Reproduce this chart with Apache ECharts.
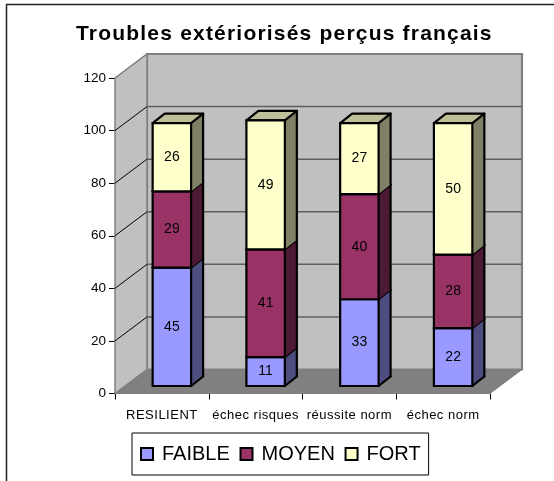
<!DOCTYPE html>
<html><head><meta charset="utf-8">
<style>html,body{margin:0;padding:0;background:#fff}#c{width:554px;height:481px}</style>
<script src="https://cdn.jsdelivr.net/npm/echarts@6/dist/echarts.min.js"></script>
</head><body><div id="c"></div>
<script>
const titleText = 'Troubles extériorisés perçus français';
const categories = ['RESILIENT', 'échec risques', 'réussite norm', 'échec norm'];
const faible = [45, 11, 33, 22];
const moyen = [29, 41, 40, 28];
const fort = [26, 49, 27, 50];
const yTicks = [0, 20, 40, 60, 80, 100, 120];

const DX = 32, DY = -24;           // wall depth
const BX = 10, BY = -7.5;          // bar front face offset
const SX = 12, SY = -9.5;          // bar depth
const BAR = 0.41;

// the reference's text is slightly letter-spaced
const spacing = new Map([[titleText, '1.2px']]);
categories.forEach(c => spacing.set(c, '0.5px'));
const origFill = CanvasRenderingContext2D.prototype.fillText;
CanvasRenderingContext2D.prototype.fillText = function (t, x, y, m) {
  const s = spacing.get(t);
  if (s) this.letterSpacing = s;
  const r = m === undefined ? origFill.call(this, t, x, y) : origFill.call(this, t, x, y, m);
  if (s) this.letterSpacing = '0px';
  return r;
};

function wallsItem(params, api) {
  const band = api.size([1, 0])[0];
  const lo = api.coord([0, 0]), top = api.coord([0, 120]);
  const x0 = lo[0] - band / 2, x1 = x0 + band * categories.length, y0 = lo[1], y1 = top[1];
  const kids = [
    {type:'polygon', shape:{points:[[x0+DX,y1+DY],[x1+DX,y1+DY],[x1+DX,y0+DY],[x0+DX,y0+DY]]}, style:{fill:'#c0c0c0',stroke:'#808080',lineWidth:2.2}},
    {type:'polygon', shape:{points:[[x0,y1],[x0+DX,y1+DY],[x0+DX,y0+DY],[x0,y0]]}, style:{fill:'#c0c0c0',stroke:'#808080',lineWidth:1.5}},
    {type:'polygon', shape:{points:[[x0,y0],[x0+DX,y0+DY],[x1+DX,y0+DY],[x1,y0]]}, style:{fill:'#808080',stroke:'#808080',lineWidth:1}}
  ];
  yTicks.forEach(t => {
    const y = api.coord([0, t])[1];
    if (t > 0 && t < 120) {
      kids.push({type:'line', shape:{x1:x0+DX,y1:y+DY,x2:x1+DX,y2:y+DY}, style:{stroke:'#606060',lineWidth:1.5}});
    }
    if (t > 0) kids.push({type:'line', shape:{x1:x0,y1:y,x2:x0+DX,y2:y+DY}, style:{stroke: t===120?'#808080':'#000',lineWidth:1}});
  });
  return {type:'group', children:kids};
}

function segment(front, side, top) {
  return function (params, api) {
    const i = api.value(0), a = api.value(1), b = api.value(2);
    const w = api.size([1, 0])[0] * BAR;
    const c = api.coord([i, a]), d = api.coord([i, b]);
    const xl = c[0] - w / 2 + BX, xr = xl + w, yb = c[1] + BY, yt = d[1] + BY;
    const line = {stroke:'#000', lineWidth:2.2, lineJoin:'round', lineCap:'round'};
    return {type:'group', children:[
      {type:'polygon', shape:{points:[[xr,yb],[xr+SX,yb+SY],[xr+SX,yt+SY],[xr,yt]]}, style:{fill:side}},
      {type:'line', shape:{x1:xr,y1:yb,x2:xr+SX,y2:yb+SY}, style:Object.assign({}, line, a === 0 ? {} : {opacity:0})},
      {type:'line', shape:{x1:xr+SX,y1:yb+SY,x2:xr+SX,y2:yt+SY}, style:line},
      {type:'polygon', shape:{points:[[xl,yt],[xr,yt],[xr+SX,yt+SY],[xl+SX,yt+SY]]}, style:Object.assign({fill:top},line)},
      {type:'rect', shape:{x:xl,y:yt,width:w,height:yb-yt}, style:Object.assign({fill:front},line,{lineJoin:'miter'})},
      {type:'text', x:(xl+xr)/2, y:(yb+yt)/2, style:{text:String(b-a), fill:'#000', font:'14px "Liberation Sans"', align:'center', verticalAlign:'middle'}}
    ]};
  };
}

function rows(vals, below) {
  return vals.map((v, i) => [i, below[i], below[i] + v]);
}
const base1 = faible.map(() => 0);
const base2 = faible.slice();
const base3 = faible.map((v, i) => v + moyen[i]);

const chart = echarts.init(document.getElementById('c'), null, {renderer:'canvas', width:554, height:481});
chart.setOption({
  animation:false,
  backgroundColor:'#fff',
  title:{text:titleText, left:76, top:24, padding:0, textStyle:{fontFamily:'Liberation Sans', fontWeight:'bold', fontSize:21, color:'#000'}},
  grid:{left:115, right:64, top:78, bottom:87.5, containLabel:false},
  xAxis:{type:'category', data:categories, boundaryGap:true,
    axisLine:{onZero:false,lineStyle:{color:'#000',width:1}}, axisTick:{show:true,alignWithLabel:false,length:6,lineStyle:{color:'#000'}},
    axisLabel:{interval:0,color:'#000',fontFamily:'Liberation Sans',fontSize:13,margin:15}, splitLine:{show:false}},
  yAxis:{type:'value', min:0, max:120, interval:20,
    axisLine:{show:true,lineStyle:{color:'#000',width:1}}, axisTick:{show:true,length:6,lineStyle:{color:'#000'}},
    axisLabel:{color:'#000',fontFamily:'Liberation Sans',fontSize:13.5,margin:9}, splitLine:{show:false}},
  legend:{show:true, left:132, top:433, orient:'horizontal', padding:[11,8,11,8], itemGap:9.7, itemWidth:12, itemHeight:12, itemStyle:{borderColor:'#000',borderWidth:2},
    borderColor:'#000', borderWidth:1, backgroundColor:'#fff', icon:'rect',
    textStyle:{fontFamily:'Liberation Sans',fontSize:20,color:'#000',padding:[0,0,0,4]},
    data:['FAIBLE','MOYEN','FORT']},
  series:[
    {type:'custom', name:'walls', z:1, silent:true, clip:false, renderItem:wallsItem, data:[[0]], encode:{x:0}},
    {type:'custom', name:'FAIBLE', z:2, clip:false, itemStyle:{color:'#9999ff'}, renderItem:segment('#9999ff','#4d4d80','#7373bf'), data:rows(faible,base1), encode:{x:0,y:[1,2]}},
    {type:'custom', name:'MOYEN', z:3, clip:false, itemStyle:{color:'#993366'}, renderItem:segment('#993366','#4d1a33','#73264d'), data:rows(moyen,base2), encode:{x:0,y:[1,2]}},
    {type:'custom', name:'FORT', z:4, clip:false, itemStyle:{color:'#ffffcc'}, renderItem:segment('#ffffcc','#808066','#bfbf99'), data:rows(fort,base3), encode:{x:0,y:[1,2]}}
  ],
  graphic:[{type:'rect', z:-1, silent:true, shape:{x:6.5,y:4.5,width:600,height:600}, style:{fill:'none',stroke:'#222',lineWidth:1.5}}]
});
</script></body></html>
